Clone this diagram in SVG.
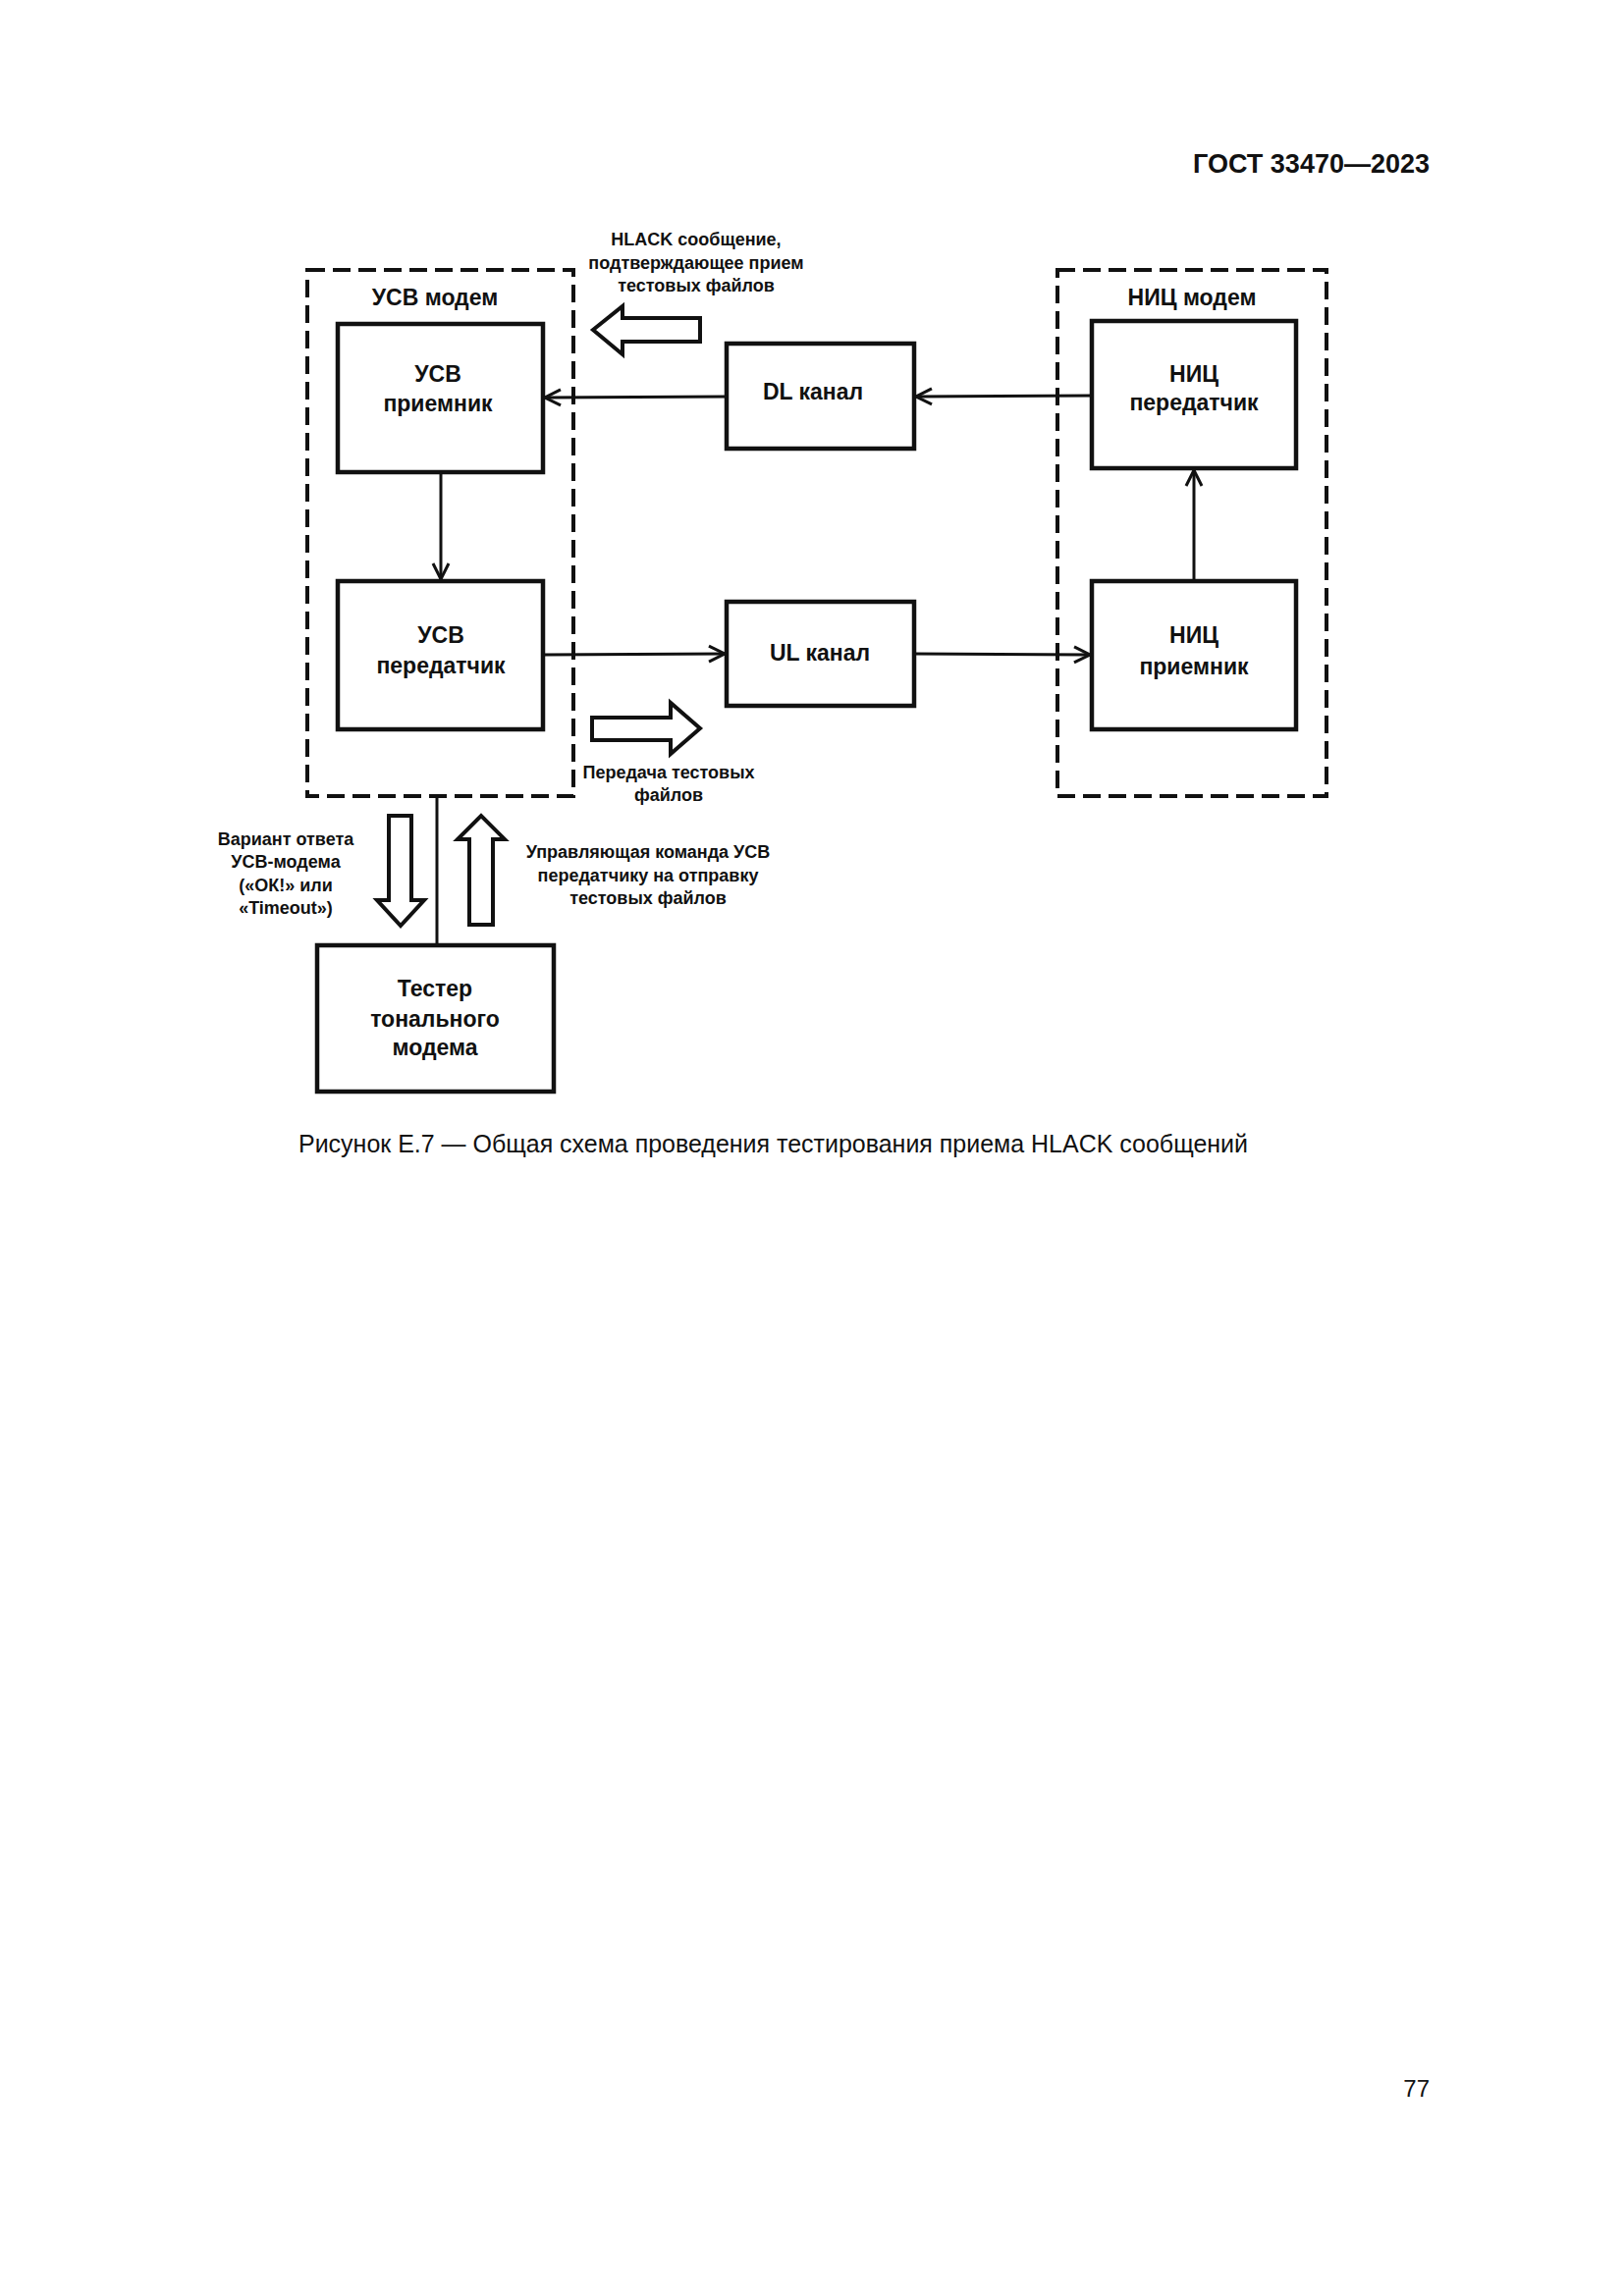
<svg xmlns="http://www.w3.org/2000/svg" width="1654" height="2339" viewBox="0 0 1654 2339">
<style>
text{font-family:"Liberation Sans",Arial,sans-serif;fill:#111;text-anchor:middle}
.b{font-weight:bold;font-size:23px}
.s{font-weight:bold;font-size:18px}
.box{fill:#fff;stroke:#111;stroke-width:4.5}
.dash{fill:none;stroke:#111;stroke-width:4;stroke-dasharray:18 8}
.ln{fill:none;stroke:#111;stroke-width:3}
.hol{fill:#fff;stroke:#111;stroke-width:4;stroke-linejoin:miter}
</style>
<defs>
<marker id="ah" viewBox="0 0 20 20" refX="18" refY="10" markerWidth="20" markerHeight="20" markerUnits="userSpaceOnUse" orient="auto">
<path d="M2,2 L18,10 L2,18" fill="none" stroke="#111" stroke-width="3"/>
</marker>
</defs>
<rect width="1654" height="2339" fill="#fff"/>
<text x="1456" y="176" style="font-weight:bold;font-size:27px;text-anchor:end">ГОСТ 33470—2023</text>

<g id="usv-modem"><rect class="dash" x="313" y="275" width="271" height="536"/><text class="b" x="443" y="311">УСВ модем</text></g>
<g id="nic-modem"><rect class="dash" x="1077" y="275" width="274" height="536"/><text class="b" x="1214" y="311">НИЦ модем</text></g>

<g id="usv-rx"><rect class="box" x="344" y="330" width="209" height="151"/><text class="b" x="446" y="389">УСВ</text><text class="b" x="446" y="419">приемник</text></g>
<g id="usv-tx"><rect class="box" x="344" y="592" width="209" height="151"/><text class="b" x="449" y="655">УСВ</text><text class="b" x="449" y="686">передатчик</text></g>
<g id="dl"><rect class="box" x="740" y="350" width="191" height="107"/><text class="b" x="828" y="407">DL канал</text></g>
<g id="ul"><rect class="box" x="740" y="613" width="191" height="106"/><text class="b" x="835" y="673">UL канал</text></g>
<g id="nic-tx"><rect class="box" x="1112" y="327" width="208" height="150"/><text class="b" x="1216" y="389">НИЦ</text><text class="b" x="1216" y="418">передатчик</text></g>
<g id="nic-rx"><rect class="box" x="1112" y="592" width="208" height="151"/><text class="b" x="1216" y="655">НИЦ</text><text class="b" x="1216" y="687">приемник</text></g>
<g id="tester"><rect class="box" x="323" y="963" width="241" height="149"/><text class="b" x="443" y="1015">Тестер</text><text class="b" x="443" y="1046">тонального</text><text class="b" x="443" y="1075">модема</text></g>

<g id="connectors">
<line class="ln" x1="1112" y1="403" x2="933" y2="404" marker-end="url(#ah)"/>
<line class="ln" x1="740" y1="404" x2="555" y2="405" marker-end="url(#ah)"/>
<line class="ln" x1="449" y1="481" x2="449" y2="590" marker-end="url(#ah)"/>
<line class="ln" x1="553" y1="667" x2="738" y2="666" marker-end="url(#ah)"/>
<line class="ln" x1="931" y1="666" x2="1110" y2="667" marker-end="url(#ah)"/>
<line class="ln" x1="1216" y1="592" x2="1216" y2="479" marker-end="url(#ah)"/>
<line class="ln" x1="445" y1="811" x2="445" y2="963"/>
</g>

<g id="hollow-arrows">
<path class="hol" d="M713,324 L634,324 L634,312 L604,336 L634,361 L634,348 L713,348 Z"/>
<path class="hol" d="M603,731 L683,731 L683,716 L713,742 L683,768 L683,754 L603,754 Z"/>
<path class="hol" d="M396,831 L419,831 L419,917 L432,917 L408,943 L384,917 L396,917 Z"/>
<path class="hol" d="M478,942 L502,942 L502,855 L514,855 L490,831 L466,855 L478,855 Z"/>
</g>

<g id="labels">
<text class="s" x="709" y="250">HLACK сообщение,</text>
<text class="s" x="709" y="274">подтверждающее прием</text>
<text class="s" x="709" y="297">тестовых файлов</text>
<text class="s" x="681" y="793">Передача тестовых</text>
<text class="s" x="681" y="816">файлов</text>
<text class="s" x="291" y="861">Вариант ответа</text>
<text class="s" x="291" y="884">УСВ-модема</text>
<text class="s" x="291" y="908">(«ОК!» или</text>
<text class="s" x="291" y="931">«Timeout»)</text>
<text class="s" x="660" y="874">Управляющая команда УСВ</text>
<text class="s" x="660" y="898">передатчику на отправку</text>
<text class="s" x="660" y="921">тестовых файлов</text>
</g>
<text x="304" y="1174" style="font-size:25px;text-anchor:start" textLength="967" lengthAdjust="spacingAndGlyphs">Рисунок Е.7 — Общая схема проведения тестирования приема HLACK сообщений</text>
<text x="1456" y="2136" style="font-size:24px;text-anchor:end">77</text>
</svg>
